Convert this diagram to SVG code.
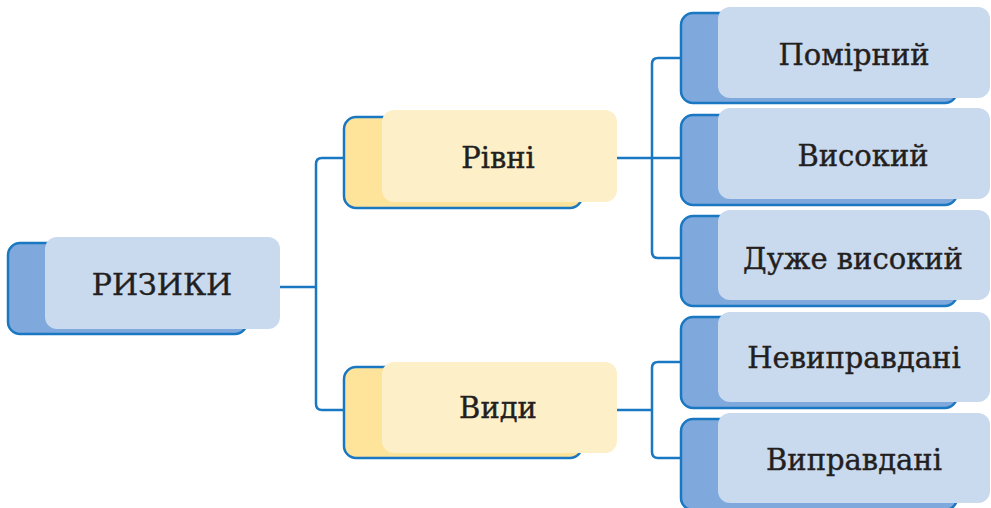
<svg xmlns="http://www.w3.org/2000/svg" width="991" height="508" viewBox="0 0 991 508">
  <style>
    .back-blue { fill: #7fa8dc; stroke: #1a78c2; stroke-width: 2.5; }
    .front-blue { fill: #c9d9ee; }
    .back-yellow { fill: #fee39a; stroke: #1a78c2; stroke-width: 2.5; }
    .front-yellow { fill: #fdf0c9; }
    .label { font-family: "DejaVu Serif", "Liberation Serif", serif; font-size: 29px; fill: #231f20; stroke: #231f20; stroke-width: 0.4; text-anchor: middle; }
    .conn { fill: none; stroke: #1a78c2; stroke-width: 2.5; }
  </style>

  <g id="connectors">
    <path class="conn" d="M280,287 H316 M343,158 H322 Q316,158 316,164 V404 Q316,410 322,410 H343"/>
    <path class="conn" d="M617,158 H680 M680,58 H658 Q652,58 652,64 V252 Q652,258 658,258 H680"/>
    <path class="conn" d="M617,410 H652 M680,362 H658 Q652,362 652,368 V452 Q652,458 658,458 H680"/>
  </g>

  <g id="rizyky">
    <rect class="back-blue" x="8" y="243" width="239" height="91" rx="12"/>
    <rect class="front-blue" x="45" y="237" width="235" height="92" rx="12"/>
    <text class="label" x="162" y="295" style="font-size:30px">РИЗИКИ</text>
  </g>

  <g id="rivni">
    <rect class="back-yellow" x="344" y="117" width="238" height="91" rx="12"/>
    <rect class="front-yellow" x="382" y="110" width="235" height="92" rx="12"/>
    <text class="label" x="498" y="168">Рівні</text>
  </g>

  <g id="vydy">
    <rect class="back-yellow" x="344" y="367" width="238" height="91" rx="12"/>
    <rect class="front-yellow" x="382" y="362" width="235" height="91" rx="12"/>
    <text class="label" x="498" y="418">Види</text>
  </g>

  <g id="pomirnyi">
    <rect class="back-blue" x="681" y="13" width="276" height="90" rx="12"/>
    <rect class="front-blue" x="718" y="7" width="272" height="91" rx="12"/>
    <text class="label" x="854" y="65">Помірний</text>
  </g>

  <g id="vysokyi">
    <rect class="back-blue" x="681" y="115" width="276" height="90" rx="12"/>
    <rect class="front-blue" x="718" y="108" width="272" height="91" rx="12"/>
    <text class="label" x="863" y="166">Високий</text>
  </g>

  <g id="duzhe-vysokyi">
    <rect class="back-blue" x="681" y="216" width="276" height="90" rx="12"/>
    <rect class="front-blue" x="718" y="210" width="272" height="90" rx="12"/>
    <text class="label" x="853" y="269">Дуже високий</text>
  </g>

  <g id="nevypravdani">
    <rect class="back-blue" x="681" y="317" width="276" height="91" rx="12"/>
    <rect class="front-blue" x="718" y="312" width="272" height="90" rx="12"/>
    <text class="label" x="854" y="368">Невиправдані</text>
  </g>

  <g id="vypravdani">
    <rect class="back-blue" x="681" y="419" width="276" height="91" rx="12"/>
    <rect class="front-blue" x="718" y="413" width="272" height="90" rx="12"/>
    <text class="label" x="854" y="470">Виправдані</text>
  </g>
</svg>
